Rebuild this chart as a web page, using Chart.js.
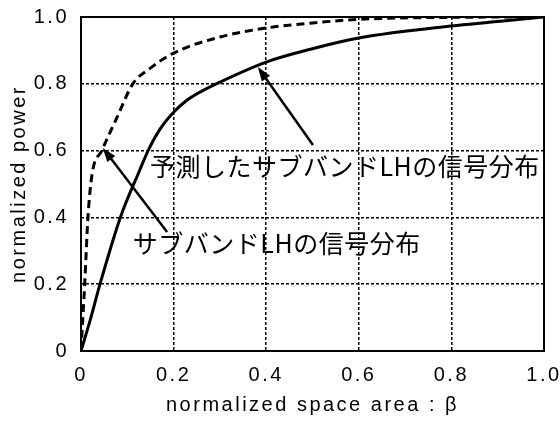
<!DOCTYPE html>
<html>
<head>
<meta charset="utf-8">
<script src="https://cdn.jsdelivr.net/npm/chart.js@4.4.1/dist/chart.umd.min.js"></script>
<style>
    html, body { margin: 0; padding: 0; background: #fff; }
    #wrap { width: 560px; height: 425px; position: relative; }
</style>
</head>
<body>
<div id="wrap"><canvas id="powerChart"></canvas></div>
<script>
    'use strict';

    // predicted LH subband (solid curve)
    const betaPredicted = [0, 0.02, 0.041, 0.085, 0.127, 0.145, 0.171, 0.2, 0.228, 0.257, 0.3, 0.4, 0.5, 0.6, 0.8, 1.0];
    const powerPredicted = [0, 0.093, 0.2, 0.4, 0.542, 0.6, 0.665, 0.715, 0.75, 0.775, 0.805, 0.865, 0.905, 0.937, 0.973, 1.0];

    // actual LH subband (dashed curve)
    const betaActual = [0, 0.004, 0.008, 0.015, 0.024, 0.045, 0.078, 0.112, 0.15, 0.2, 0.3, 0.4, 0.5, 0.6, 0.8, 1.0];
    const powerActual = [0, 0.1, 0.2, 0.4, 0.53, 0.6, 0.7, 0.8, 0.847, 0.892, 0.94, 0.967, 0.982, 0.993, 0.999, 1.0];

    const xTickLabels = ['0', '0.2', '0.4', '0.6', '0.8', '1.0'];
    const yTickLabels = ['0', '0.2', '0.4', '0.6', '0.8', '1.0'];

    const seriesNames = ['予測したサブバンドLHの信号分布', 'サブバンドLHの信号分布'];

    const toPoints = (xs, ys) => xs.map((x, i) => ({ x: x, y: ys[i] }));

    // callout text + arrow, in data units
    const callouts = [
        { text: seriesNames[0], at: [0.149, 0.551], from: [0.501, 0.617], to: [0.382, 0.85] },
        { text: seriesNames[1], at: [0.112, 0.323], from: [0.186, 0.356], to: [0.047, 0.608] }
    ];

    const spacingPlugin = {
        id: 'spacing',
        beforeLayout(chart) { chart.ctx.letterSpacing = '2.5px'; },
        beforeDraw(chart) { chart.ctx.letterSpacing = '2.5px'; }
    };

    const framePlugin = {
        id: 'frame',
        afterDatasetsDraw(chart) {
            const { ctx, chartArea: a } = chart;
            ctx.save();
            ctx.strokeStyle = '#000';
            ctx.lineWidth = 2;
            ctx.setLineDash([]);
            ctx.strokeRect(a.left, a.top, a.right - a.left, a.bottom - a.top);
            ctx.restore();
        }
    };

    const calloutPlugin = {
        id: 'callouts',
        afterDraw(chart) {
            const { ctx } = chart;
            const xs = chart.scales.x;
            const ys = chart.scales.y;
            ctx.save();
            callouts.forEach(c => {
                const x1 = xs.getPixelForValue(c.from[0]);
                const y1 = ys.getPixelForValue(c.from[1]);
                const x2 = xs.getPixelForValue(c.to[0]);
                const y2 = ys.getPixelForValue(c.to[1]);
                const ang = Math.atan2(y2 - y1, x2 - x1);
                const head = 14;
                const half = 5;

                ctx.strokeStyle = '#000';
                ctx.lineWidth = 2.5;
                ctx.setLineDash([]);
                ctx.beginPath();
                ctx.moveTo(x1, y1);
                ctx.lineTo(x2 - Math.cos(ang) * head * 0.6, y2 - Math.sin(ang) * head * 0.6);
                ctx.stroke();

                ctx.fillStyle = '#000';
                ctx.beginPath();
                ctx.moveTo(x2, y2);
                ctx.lineTo(x2 - Math.cos(ang) * head - Math.sin(ang) * half, y2 - Math.sin(ang) * head + Math.cos(ang) * half);
                ctx.lineTo(x2 - Math.cos(ang) * head + Math.sin(ang) * half, y2 - Math.sin(ang) * head - Math.cos(ang) * half);
                ctx.closePath();
                ctx.fill();

                ctx.letterSpacing = '0.5px';
                ctx.font = '25px "Noto Sans CJK JP"';
                ctx.textAlign = 'left';
                ctx.textBaseline = 'middle';
                ctx.fillText(c.text, xs.getPixelForValue(c.at[0]), ys.getPixelForValue(c.at[1]));
            });
            ctx.restore();
        }
    };

    const gridColor = ctx => (ctx.tick && (ctx.tick.value === 0 || ctx.tick.value === 1)) ? 'rgba(0,0,0,0)' : '#000';
    const tickFont = { family: '"Liberation Sans", Arial, sans-serif', size: 20 };
    const titleFont = { family: '"Liberation Sans", Arial, sans-serif', size: 20 };

    new Chart(document.getElementById('powerChart'), {
        type: 'line',
        data: {
            datasets: [
                {
                    label: seriesNames[0],
                    data: toPoints(betaPredicted, powerPredicted),
                    borderColor: '#000',
                    borderWidth: 3,
                    pointRadius: 0,
                    cubicInterpolationMode: 'monotone',
                    fill: false
                },
                {
                    label: seriesNames[1],
                    data: toPoints(betaActual, powerActual),
                    borderColor: '#000',
                    borderWidth: 3,
                    borderDash: [8, 5],
                    pointRadius: 0,
                    cubicInterpolationMode: 'monotone',
                    fill: false
                }
            ]
        },
        options: {
            responsive: true,
            maintainAspectRatio: false,
            animation: false,
            layout: { padding: { top: 17, right: 16, left: 0, bottom: 0 } },
            plugins: {
                legend: { display: false },
                tooltip: { enabled: false }
            },
            scales: {
                x: {
                    type: 'linear',
                    min: 0,
                    max: 1,
                    afterFit: scale => {
                        scale.height = 74;
                        scale.paddingLeft = 0;
                        scale.paddingRight = 0;
                    },
                    ticks: {
                        stepSize: 0.2,
                        color: '#000',
                        font: tickFont,
                        padding: 12,
                        maxRotation: 0,
                        callback: (value, index) => xTickLabels[index]
                    },
                    grid: { color: gridColor, lineWidth: 1.5, drawTicks: false },
                    border: { display: false, dash: [3, 2] },
                    title: {
                        display: true,
                        text: 'normalized space area : β',
                        color: '#000',
                        font: titleFont,
                        padding: { top: 0, bottom: 8 }
                    }
                },
                y: {
                    min: 0,
                    max: 1,
                    afterFit: scale => {
                        scale.width = 81;
                        scale.paddingTop = 0;
                        scale.paddingBottom = 0;
                    },
                    ticks: {
                        stepSize: 0.2,
                        color: '#000',
                        font: tickFont,
                        padding: 12,
                        callback: (value, index) => yTickLabels[index]
                    },
                    grid: { color: gridColor, lineWidth: 1.5, drawTicks: false },
                    border: { display: false, dash: [3, 2] },
                    title: {
                        display: true,
                        text: 'normalized power',
                        color: '#000',
                        font: titleFont,
                        padding: { top: 7, bottom: 0 }
                    }
                }
            }
        },
        plugins: [spacingPlugin, framePlugin, calloutPlugin]
    });
</script>
</body>
</html>
